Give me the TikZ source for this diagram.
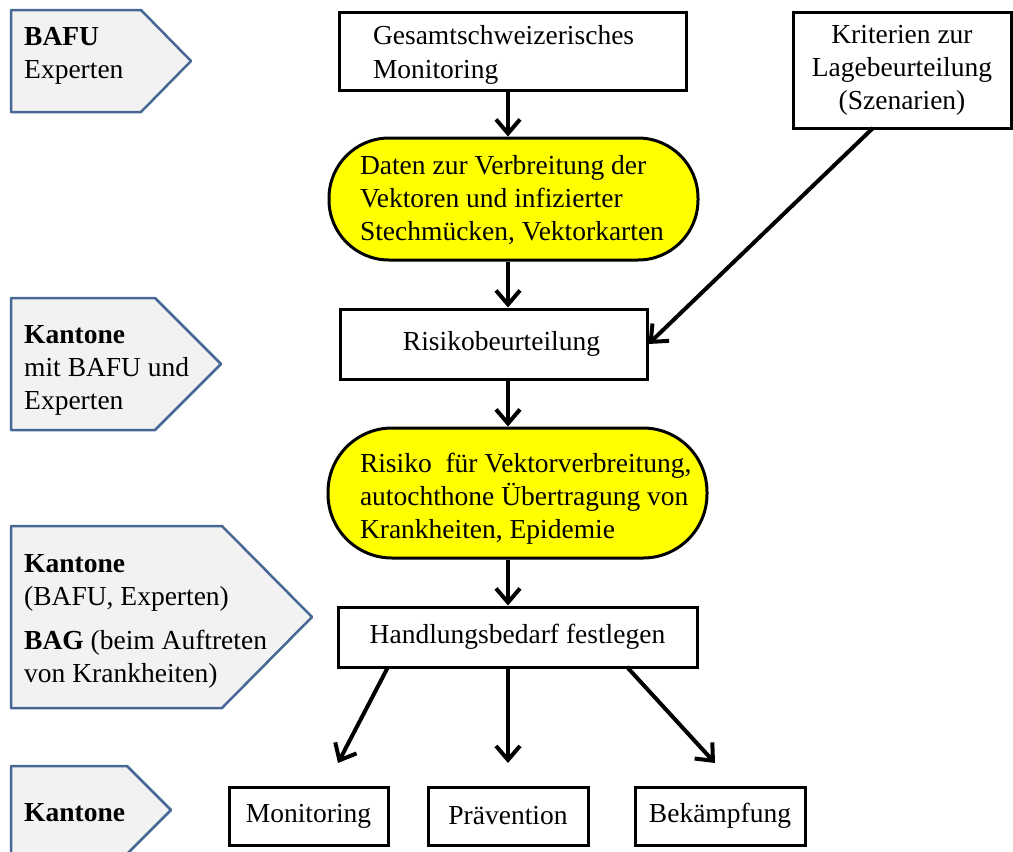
\documentclass[tikz,border=0pt]{standalone}
\usepackage{fontspec}
\setmainfont{Liberation Serif}
\usetikzlibrary{arrows.meta}
\definecolor{tagfill}{RGB}{242,242,242}
\definecolor{tagline}{RGB}{71,104,148}
\definecolor{pillyellow}{RGB}{255,255,0}

\begin{document}
\begin{tikzpicture}[x=1pt,y=-1pt,
    every node/.style={font=\fontsize{27.5}{33}\selectfont},
    tag/.style={draw=tagline,fill=tagfill,line width=2.5pt,line join=round},
    box/.style={draw,line width=3pt,inner sep=0pt},
    arr/.style={line width=4pt,-{Straight Barb[length=14pt,width=24pt]}}]
        \useasboundingbox (0,0) rectangle (1013,852);

        % who is in charge
        \draw[tag] (11,10) -- (141,10) -- (191,61) -- (141,112) -- (11,112) -- cycle;
        \draw[tag] (11,298) -- (155,298) -- (221,364) -- (155,430) -- (11,430) -- cycle;
        \draw[tag] (11,526) -- (222,526) -- (312,617) -- (222,708) -- (11,708) -- cycle;
        \draw[tag] (11,766) -- (127,766) -- (171,810) -- (127,854) -- (11,854) -- cycle;
        \node[anchor=west,align=left,inner sep=0pt] (bafu) at (24,56) {\textbf{BAFU}\\Experten};
        \node[anchor=west,align=left,inner sep=0pt] (kantoneA) at (24,370) {\textbf{Kantone}\\mit BAFU und\\Experten};
        \node[anchor=west,align=left,inner sep=0pt] (kantoneB) at (24,621) {\textbf{Kantone}\\(BAFU, Experten)\\[11pt]\textbf{BAG} (beim Auftreten\\von Krankheiten)};
        \node[anchor=west,align=left,inner sep=0pt] (kantoneC) at (24,813) {\textbf{Kantone}};

        % flow
        \node[box,minimum width=347,minimum height=78] (gesamt) at (512.5,51) {
            \begin{minipage}{279pt}
                \vspace*{8pt}
                Gesamtschweizerisches\\[1pt]Monitoring
            \end{minipage}
        };
        \node[box,minimum width=218,minimum height=116,align=center] (kriterien) at (902,70) {Kriterien zur\\Lagebeurteilung\\(Szenarien)};
        \node[box,fill=pillyellow,rounded corners=60pt,minimum width=369,minimum height=122] (daten) at (513.5,199) {
            \begin{minipage}{307pt}
                \vspace*{2pt}
                \mbox{Daten zur Verbreitung der}\\\mbox{Vektoren und infizierter}\\\mbox{Stechmücken, Vektorkarten}
            \end{minipage}
        };
        \node[box,minimum width=307,minimum height=70] (beurteilung) at (493.5,344) {\hspace*{16pt}Risikobeurteilung};
        \node[box,fill=pillyellow,rounded corners=64pt,minimum width=379,minimum height=130] (risiko) at (517.5,493) {
            \begin{minipage}{315pt}
                \vspace*{12pt}
                \mbox{Risiko\ \ für Vektorverbreitung,}\\\mbox{autochthone Übertragung von}\\\mbox{Krankheiten, Epidemie}
            \end{minipage}
        };
        \node[box,minimum width=359,minimum height=60] (handlung) at (517.5,637) {Handlungsbedarf festlegen};
        \node[box,minimum width=159,minimum height=58] (monitoring) at (308.5,816) {Monitoring};
        \node[box,minimum width=160,minimum height=58] (praevention) at (508,816) {Prävention};
        \node[box,minimum width=170,minimum height=58] (bekaempfung) at (720,816) {Bekämpfung};

        % arrows
        \coordinate (axis) at (508,0);
        \coordinate (kfoot) at (873,128);
        \coordinate (fromL) at (388,667);
        \coordinate (toL) at (338,763);
        \coordinate (toM) at (508,763);
        \coordinate (fromR) at (627,667);
        \coordinate (toR) at (715,763);
        \draw[arr] (gesamt.south -| axis) -- (daten.north -| axis);
        \draw[arr] (daten.south -| axis) -- (beurteilung.north -| axis);
        \draw[arr] (kfoot) -- (beurteilung.east);
        \draw[arr] (beurteilung.south -| axis) -- (risiko.north -| axis);
        \draw[arr] (risiko.south -| axis) -- (handlung.north -| axis);
        \draw[arr] (fromL) -- (toL);
        \draw[arr] (handlung.south -| axis) -- (toM);
        \draw[arr] (fromR) -- (toR);
    \end{tikzpicture}
\end{document}
